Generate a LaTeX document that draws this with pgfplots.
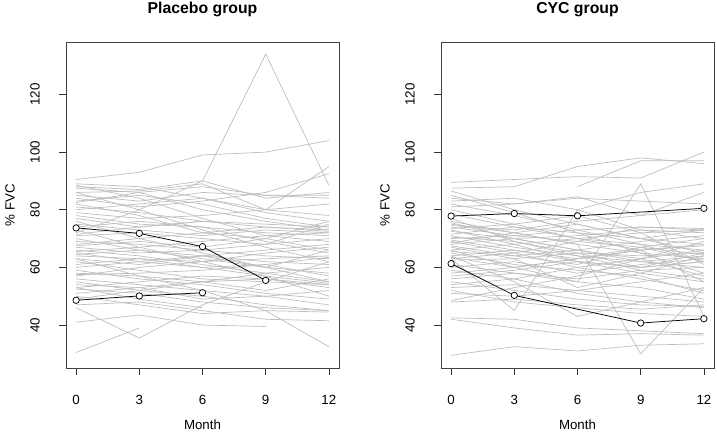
\documentclass[border=0pt]{standalone}
\usepackage{pgfplots}
\pgfplotsset{compat=1.18}
\usepackage{fontspec}
\setmainfont{Liberation Sans}
\definecolor{lg}{RGB}{190,190,190}
\pgfplotsset{
  gl/.style={color=lg, line width=0.7pt, mark=none},
  hl/.style={black, line width=0.75pt, mark=*, mark size=3.2pt, mark options={fill=white, draw=black, line width=0.75pt}},
  panel/.style={
    scale only axis, width=273pt, height=326pt,
    xmin=-0.48, xmax=12.48, ymin=25.1, ymax=138.2,
    xtick={0,3,6,9,12}, ytick={40,60,80,100,120},
    tick align=outside, tick pos=left,
    major tick length=7pt,
    every tick/.style={black!80, line width=0.6pt},
    axis line style={black!75, line width=0.75pt},
    /pgf/number format/assume math mode=true,
    ticklabel style={font=\fontsize{13.3}{15}\selectfont},
    xticklabel style={anchor=center, yshift=-25pt},
    yticklabel style={anchor=center, xshift=-24pt, rotate=90},
    every axis title shift=0pt,
    title style={font=\bfseries\fontsize{15.8}{18}\selectfont, at={(axis description cs:0.5,1.0997)}, anchor=center, yshift=0pt},
    xlabel style={font=\fontsize{13.3}{15}\selectfont, at={(axis description cs:0.5,-0.1748)}, anchor=center},
    ylabel style={font=\fontsize{13.3}{15}\selectfont, at={(axis description cs:-0.205,0.5)}, anchor=center, rotate=0},
    xlabel={Month}, ylabel={\% FVC},
  }
}
\begin{document}
\begin{tikzpicture}
\useasboundingbox (0,0) rectangle (717pt,433pt);
\begin{axis}[panel, at={(66pt,65pt)}, anchor=south west, title={Placebo group}]
\addplot[gl] coordinates {(0,90.5) (3,93) (6,99) (9,100) (12,104)};
\addplot[gl] coordinates {(0,72) (3,80) (6,90) (9,134) (12,88.5)};
\addplot[gl] coordinates {(0,30.5) (3,39)};
\addplot[gl] coordinates {(0,46) (3,35.5) (6,47) (9,55) (12,62)};
\addplot[gl] coordinates {(0,41) (3,43.5) (6,40) (9,39.5)};
\addplot[gl] coordinates {(0,63) (3,57) (6,52) (9,45) (12,32.5)};
\addplot[gl] coordinates {(0,88) (3,87) (6,90) (9,84) (12,86)};
\addplot[gl] coordinates {(0,86) (3,86.5) (6,89) (9,80) (12,95)};
\addplot[gl] coordinates {(0,84) (3,81) (6,83) (9,86) (12,92.5)};
\addplot[gl] coordinates {(0,89) (3,88) (6,84) (9,80) (12,78)};
\addplot[gl] coordinates {(0,87.5) (3,86) (6,80) (9,76) (12,73)};
\addplot[gl] coordinates {(0,85) (3,83) (6,86) (9,85) (12,84)};
\addplot[gl] coordinates {(0,82) (3,78) (6,72) (9,70) (12,66)};
\addplot[gl] coordinates {(0,80) (3,82) (6,84) (9,79) (12,76)};
\addplot[gl] coordinates {(0,78) (3,75) (6,74) (9,72) (12,71)};
\addplot[gl] coordinates {(0,77) (3,74) (6,76) (9,75) (12,74)};
\addplot[gl] coordinates {(0,76) (3,70) (6,65) (9,60) (12,55)};
\addplot[gl] coordinates {(0,75) (3,73) (6,71) (9,73) (12,72)};
\addplot[gl] coordinates {(0,71) (3,72) (6,70) (9,68) (12,75)};
\addplot[gl] coordinates {(0,70) (3,66) (6,64) (9,62) (12,61)};
\addplot[gl] coordinates {(0,68) (3,70) (6,72) (9,74) (12,73)};
\addplot[gl] coordinates {(0,67) (3,65) (6,66) (9,68) (12,70)};
\addplot[gl] coordinates {(0,66) (3,64) (6,61) (9,58) (12,55)};
\addplot[gl] coordinates {(0,65.5) (3,67) (6,69) (9,71) (12,72)};
\addplot[gl] coordinates {(0,65) (3,62) (6,60) (9,57) (12,54.5)};
\addplot[gl] coordinates {(0,64) (3,63) (6,62) (9,63) (12,64)};
\addplot[gl] coordinates {(0,63) (3,61) (6,64) (9,66) (12,68)};
\addplot[gl] coordinates {(0,62) (3,59) (6,56) (9,55) (12,54)};
\addplot[gl] coordinates {(0,60) (3,62) (6,64) (9,60) (12,58)};
\addplot[gl] coordinates {(0,58) (3,57) (6,55) (9,56) (12,53)};
\addplot[gl] coordinates {(0,57) (3,60) (6,62) (9,65) (12,67)};
\addplot[gl] coordinates {(0,56) (3,54) (6,52) (9,50) (12,47)};
\addplot[gl] coordinates {(0,53) (3,55) (6,57) (9,56) (12,54)};
\addplot[gl] coordinates {(0,52.5) (3,51) (6,48) (9,46) (12,45)};
\addplot[gl] coordinates {(0,51) (3,53) (6,49) (9,50) (12,52)};
\addplot[gl] coordinates {(0,50) (3,47) (6,44) (9,45) (12,44.5)};
\addplot[gl] coordinates {(0,49) (3,52) (6,55) (9,58) (12,60)};
\addplot[gl] coordinates {(0,47) (3,48) (6,45) (9,42) (12,41.5)};
\addplot[gl] coordinates {(0,83) (3,85) (6,82) (9,77) (12,74)};
\addplot[gl] coordinates {(0,81) (3,79) (6,76) (9,74) (12,72.5)};
\addplot[gl] coordinates {(0,74) (3,76) (6,74) (9,69) (12,65)};
\addplot[gl] coordinates {(0,69) (3,68) (6,66) (9,64) (12,63)};
\addplot[gl] coordinates {(0,73) (3,67) (6,62) (9,57) (12,50)};
\addplot[gl] coordinates {(0,61) (3,63) (6,60) (9,61) (12,57)};
\addplot[gl] coordinates {(0,59) (3,56) (6,54) (9,51) (12,49)};
\addplot[gl] coordinates {(0,86) (3,80) (6,73) (9,67) (12,62)};
\addplot[gl] coordinates {(0,55) (3,52) (6,50) (9,47) (12,45)};
\addplot[gl] coordinates {(0,88.5) (3,84) (6,77) (9,71) (12,69)};
\addplot[gl] coordinates {(0,79) (3,77) (6,78) (9,80) (12,82)};
\addplot[gl] coordinates {(0,67.5) (3,69) (6,67) (9,70) (12,76)};
\addplot[gl] coordinates {(0,54) (3,53) (6,55) (9,52) (12,56)};
\addplot[gl] coordinates {(0,64.5) (3,66) (6,63) (9,60) (12,66)};
\addplot[gl] coordinates {(0,82.5) (3,86) (6,88) (9,85) (12,85)};
\addplot[gl] coordinates {(0,57.5) (3,58) (6,59) (9,61) (12,63.5)};
\addplot[gl] coordinates {(0,53) (3,49) (6,46)};
\addplot[gl] coordinates {(0,71.5) (3,74) (6,76)};
\addplot[hl] coordinates {(0,73.7) (3,71.8) (6,67.2) (9,55.5)};
\addplot[hl] coordinates {(0,48.6) (3,50.1) (6,51.2)};
\end{axis}
\begin{axis}[panel, at={(441pt,65pt)}, anchor=south west, title={CYC group}]
\addplot[gl] coordinates {(0,29.5) (3,32.5) (6,31) (9,33) (12,33.5)};
\addplot[gl] coordinates {(0,42.5) (3,42) (6,39) (9,38) (12,37)};
\addplot[gl] coordinates {(0,42) (3,39) (6,36.5) (9,37) (12,36.5)};
\addplot[gl] coordinates {(0,87.5) (3,88) (6,95) (9,98) (12,96)};
\addplot[gl] coordinates {(0,89.5) (3,90.5) (6,91.5) (9,91) (12,100)};
\addplot[gl] coordinates {(6,88) (9,97) (12,97)};
\addplot[gl] coordinates {(0,63) (3,45) (6,80) (9,73) (12,70)};
\addplot[gl] coordinates {(0,66) (3,60) (6,55) (9,89) (12,43)};
\addplot[gl] coordinates {(0,75) (3,72) (6,68) (9,30) (12,53)};
\addplot[gl] coordinates {(0,86.5) (3,80) (6,75) (9,70) (12,68)};
\addplot[gl] coordinates {(0,84) (3,82) (6,84) (9,83) (12,82)};
\addplot[gl] coordinates {(0,82) (3,78) (6,73) (9,68) (12,62)};
\addplot[gl] coordinates {(0,80) (3,75) (6,70) (9,66) (12,55)};
\addplot[gl] coordinates {(0,78.5) (3,74) (6,72) (9,70) (12,73)};
\addplot[gl] coordinates {(0,76) (3,72) (6,68) (9,65) (12,63)};
\addplot[gl] coordinates {(0,74.5) (3,73) (6,76) (9,78) (12,80)};
\addplot[gl] coordinates {(0,73) (3,68) (6,62) (9,58) (12,55)};
\addplot[gl] coordinates {(0,72.5) (3,70) (6,71) (9,73) (12,72)};
\addplot[gl] coordinates {(0,71.5) (3,74) (6,70) (9,68) (12,66)};
\addplot[gl] coordinates {(0,71) (3,67) (6,64) (9,62) (12,60)};
\addplot[gl] coordinates {(0,70) (3,71) (6,73) (9,74) (12,73.5)};
\addplot[gl] coordinates {(0,69) (3,65) (6,60) (9,56) (12,52)};
\addplot[gl] coordinates {(0,68) (3,70) (6,66) (9,62) (12,64)};
\addplot[gl] coordinates {(0,67.5) (3,64) (6,66) (9,69) (12,71)};
\addplot[gl] coordinates {(0,67) (3,63) (6,53) (9,58) (12,64)};
\addplot[gl] coordinates {(0,66) (3,68) (6,70) (9,72) (12,73)};
\addplot[gl] coordinates {(0,65) (3,61) (6,59) (9,57) (12,51)};
\addplot[gl] coordinates {(0,64) (3,66) (6,62) (9,60) (12,62)};
\addplot[gl] coordinates {(0,63.5) (3,60) (6,63) (9,66) (12,68)};
\addplot[gl] coordinates {(0,62.5) (3,63) (6,65) (9,64) (12,65)};
\addplot[gl] coordinates {(0,61) (3,58) (6,55) (9,53) (12,49)};
\addplot[gl] coordinates {(0,60) (3,62) (6,58) (9,61) (12,63)};
\addplot[gl] coordinates {(0,59) (3,56) (6,51) (9,48) (12,46)};
\addplot[gl] coordinates {(0,58) (3,60) (6,63) (9,67) (12,70)};
\addplot[gl] coordinates {(0,56) (3,58) (6,56) (9,59) (12,60)};
\addplot[gl] coordinates {(0,55) (3,52) (6,49) (9,47) (12,46.5)};
\addplot[gl] coordinates {(0,54) (3,56) (6,60) (9,63) (12,66)};
\addplot[gl] coordinates {(0,53) (3,54) (6,52) (9,50) (12,48)};
\addplot[gl] coordinates {(0,51) (3,50) (6,52) (9,55) (12,58)};
\addplot[gl] coordinates {(0,48.5) (3,53) (6,57) (9,63) (12,69)};
\addplot[gl] coordinates {(0,48) (3,49) (6,47) (9,45.5) (12,47)};
\addplot[gl] coordinates {(0,85) (3,79) (6,72) (9,65) (12,58)};
\addplot[gl] coordinates {(0,83) (3,84) (6,80) (9,86) (12,89)};
\addplot[gl] coordinates {(0,81) (3,82) (6,84.5) (9,78) (12,86)};
\addplot[gl] coordinates {(0,77) (3,69) (6,65) (9,60) (12,62)};
\addplot[gl] coordinates {(0,75.5) (3,70) (6,66) (9,63) (12,57)};
\addplot[gl] coordinates {(0,69.5) (3,66) (6,63) (9,66) (12,67.5)};
\addplot[gl] coordinates {(0,65.5) (3,64) (6,61) (9,67) (12,62)};
\addplot[gl] coordinates {(0,64) (3,55) (6,43) (9,48) (12,53)};
\addplot[gl] coordinates {(0,73.5) (3,75) (6,78) (9,72) (12,61)};
\addplot[gl] coordinates {(0,57) (3,59) (6,62) (9,60) (12,65)};
\addplot[gl] coordinates {(0,63) (3,65) (6,69) (9,74) (12,73)};
\addplot[gl] coordinates {(0,68.5) (3,72) (6,75) (9,70) (12,65)};
\addplot[gl] coordinates {(0,70.5) (3,69) (6,64) (9,59) (12,56)};
\addplot[gl] coordinates {(0,52) (3,48) (6,46) (9,44) (12,43)};
\addplot[gl] coordinates {(0,74) (3,71) (6,69) (9,67) (12,64.5)};
\addplot[hl] coordinates {(0,77.8) (3,78.7) (6,77.9) (12,80.5)};
\addplot[hl] coordinates {(0,61.3) (3,50.3) (9,40.7) (12,42.2)};
\end{axis}
\end{tikzpicture}
\end{document}
